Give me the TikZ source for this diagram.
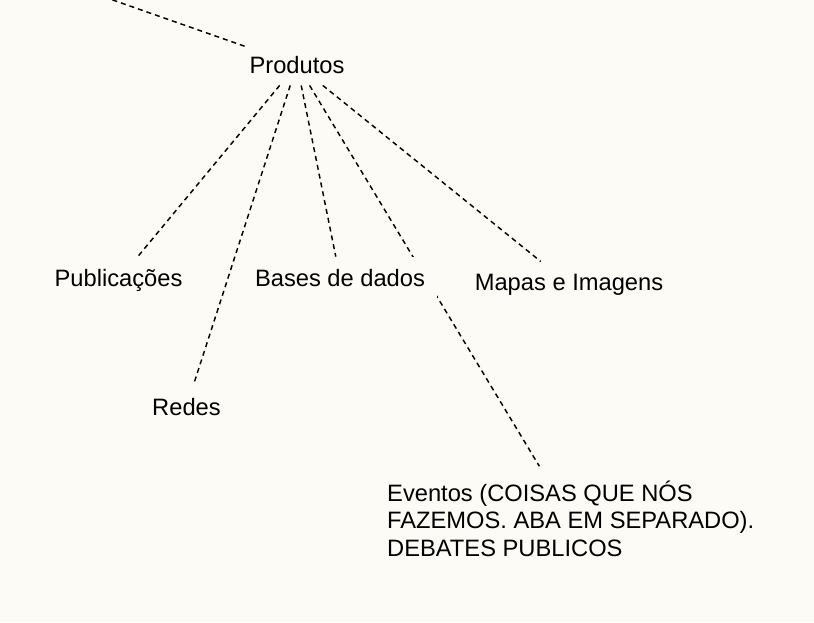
\documentclass[tikz,border=0pt]{standalone}
\usepackage{fontspec}
\setmainfont{Liberation Sans}
\usetikzlibrary{positioning}
\definecolor{paper}{HTML}{FCFBF6}

\begin{document}
\begin{tikzpicture}[
    x=1pt, y=-1pt,
    topic/.style={inner sep=12pt, fill=paper, font=\fontsize{23.7}{27.5}\selectfont},
    link/.style={dash pattern=on 5pt off 4pt, line width=1.45pt},
]
\fill[paper] (0,0) rectangle (814,622);
\clip (0,0) rectangle (814,622);

\node[topic, anchor=base, inner xsep=3pt] (prod) at (297,73) {Produtos};
\node[topic, anchor=base] (pub) at (118.5,286) {Publicações};
\node[topic, anchor=base, inner sep=15pt] (redes) at (186.5,415) {Redes};
\node[topic, anchor=base west, align=left, inner sep=14pt] (evt) at (373,556)
    {Eventos (COISAS QUE NÓS\\FAZEMOS. ABA EM SEPARADO).\\DEBATES PUBLICOS};
\node[topic, anchor=base] (mapas) at (569,290) {Mapas e Imagens};
\coordinate (up) at (70,-15);

\draw[link] (up) -- (prod);
\foreach \b in {pub, redes, evt, mapas} {
    \draw[link] (prod) -- (\b);
}

\node[topic, anchor=base] (bases) at (340,286) {Bases de dados};
\draw[link] (prod) -- (bases);

\end{tikzpicture}
\end{document}
